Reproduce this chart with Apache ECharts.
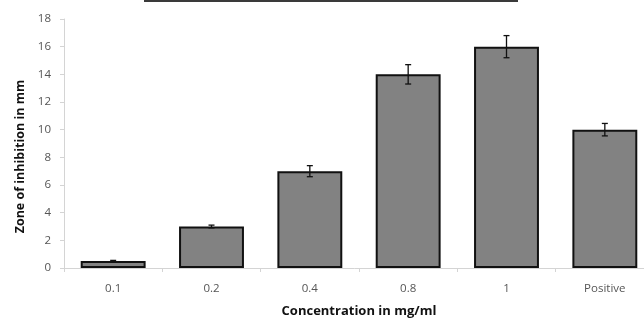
<!DOCTYPE html>
<html>
<head>
<meta charset="utf-8">
<script src="https://cdn.jsdelivr.net/npm/echarts@6/dist/echarts.min.js"></script>
<style>
  html, body { margin: 0; padding: 0; background: #fff; }
  #chart { width: 644px; height: 320px; }
</style>
</head>
<body>
<div id="chart"></div>
<script>
const categories = ['0.1', '0.2', '0.4', '0.8', '1', 'Positive']
const zoneValues = [0.5, 3, 7, 14, 16, 10]
const zoneErrors = [0.05, 0.1, 0.4, 0.7, 0.8, 0.45]
const yTicks = [0, 2, 4, 6, 8, 10, 12, 14, 16, 18]

const font = '"Open Sans", "Liberation Sans", sans-serif'

const chart = echarts.init(document.getElementById('chart'))

chart.setOption({
  backgroundColor: '#fff',
  animation: false,
  grid: { left: 64, right: -10, top: 19, bottom: 52, outerBoundsMode: 'none' },
  graphic: [
    {
      type: 'rect',
      shape: { x: 144, y: 0, width: 374, height: 2 },
      style: { fill: '#3a3a3a' },
    },
  ],
  xAxis: {
    type: 'category',
    data: categories,
    name: 'Concentration in mg/ml',
    nameLocation: 'middle',
    nameGap: 37,
    nameTextStyle: { color: '#111', fontSize: 13, fontWeight: 'bold', fontFamily: font },
    axisLine: { lineStyle: { color: '#d4d4d4', width: 1 } },
    axisTick: { show: true, length: 4, lineStyle: { color: '#d4d4d4' } },
    axisLabel: { color: '#555', fontSize: 11.5, margin: 15, fontFamily: font },
  },
  yAxis: {
    type: 'value',
    min: yTicks[0],
    max: yTicks[yTicks.length - 1],
    interval: 2,
    name: 'Zone of inhibition in mm',
    nameLocation: 'middle',
    nameGap: 35,
    nameTextStyle: {
      color: '#111', fontSize: 12.5, fontWeight: 'bold', fontFamily: font,
      padding: [0, 26, 0, 0],
    },
    axisLine: { show: true, lineStyle: { color: '#d4d4d4', width: 1 } },
    axisTick: { show: true, length: 4, lineStyle: { color: '#d4d4d4' } },
    axisLabel: { color: '#555', fontSize: 11.5, margin: 13, fontFamily: font },
    splitLine: { show: false },
  },
  series: [
    {
      type: 'bar',
      data: zoneValues,
      barWidth: '66%',
      itemStyle: { color: '#828282', borderColor: '#111', borderWidth: 2 },
    },
    {
      type: 'custom',
      data: zoneValues.map((v, i) => [i, v, zoneErrors[i]]),
      z: 10,
      renderItem: (params, api) => {
        const idx = api.value(0)
        const val = api.value(1)
        const err = api.value(2)
        const hi = api.coord([idx, val + err])
        const lo = api.coord([idx, val - err])
        const cap = 3
        const style = { stroke: '#111', lineWidth: 1.3 }
        return {
          type: 'group',
          children: [
            { type: 'line', shape: { x1: hi[0], y1: hi[1], x2: lo[0], y2: lo[1] }, style },
            { type: 'line', shape: { x1: hi[0] - cap, y1: hi[1], x2: hi[0] + cap, y2: hi[1] }, style },
            { type: 'line', shape: { x1: lo[0] - cap, y1: lo[1], x2: lo[0] + cap, y2: lo[1] }, style },
          ],
        }
      },
    },
  ],
})
</script>
</body>
</html>
